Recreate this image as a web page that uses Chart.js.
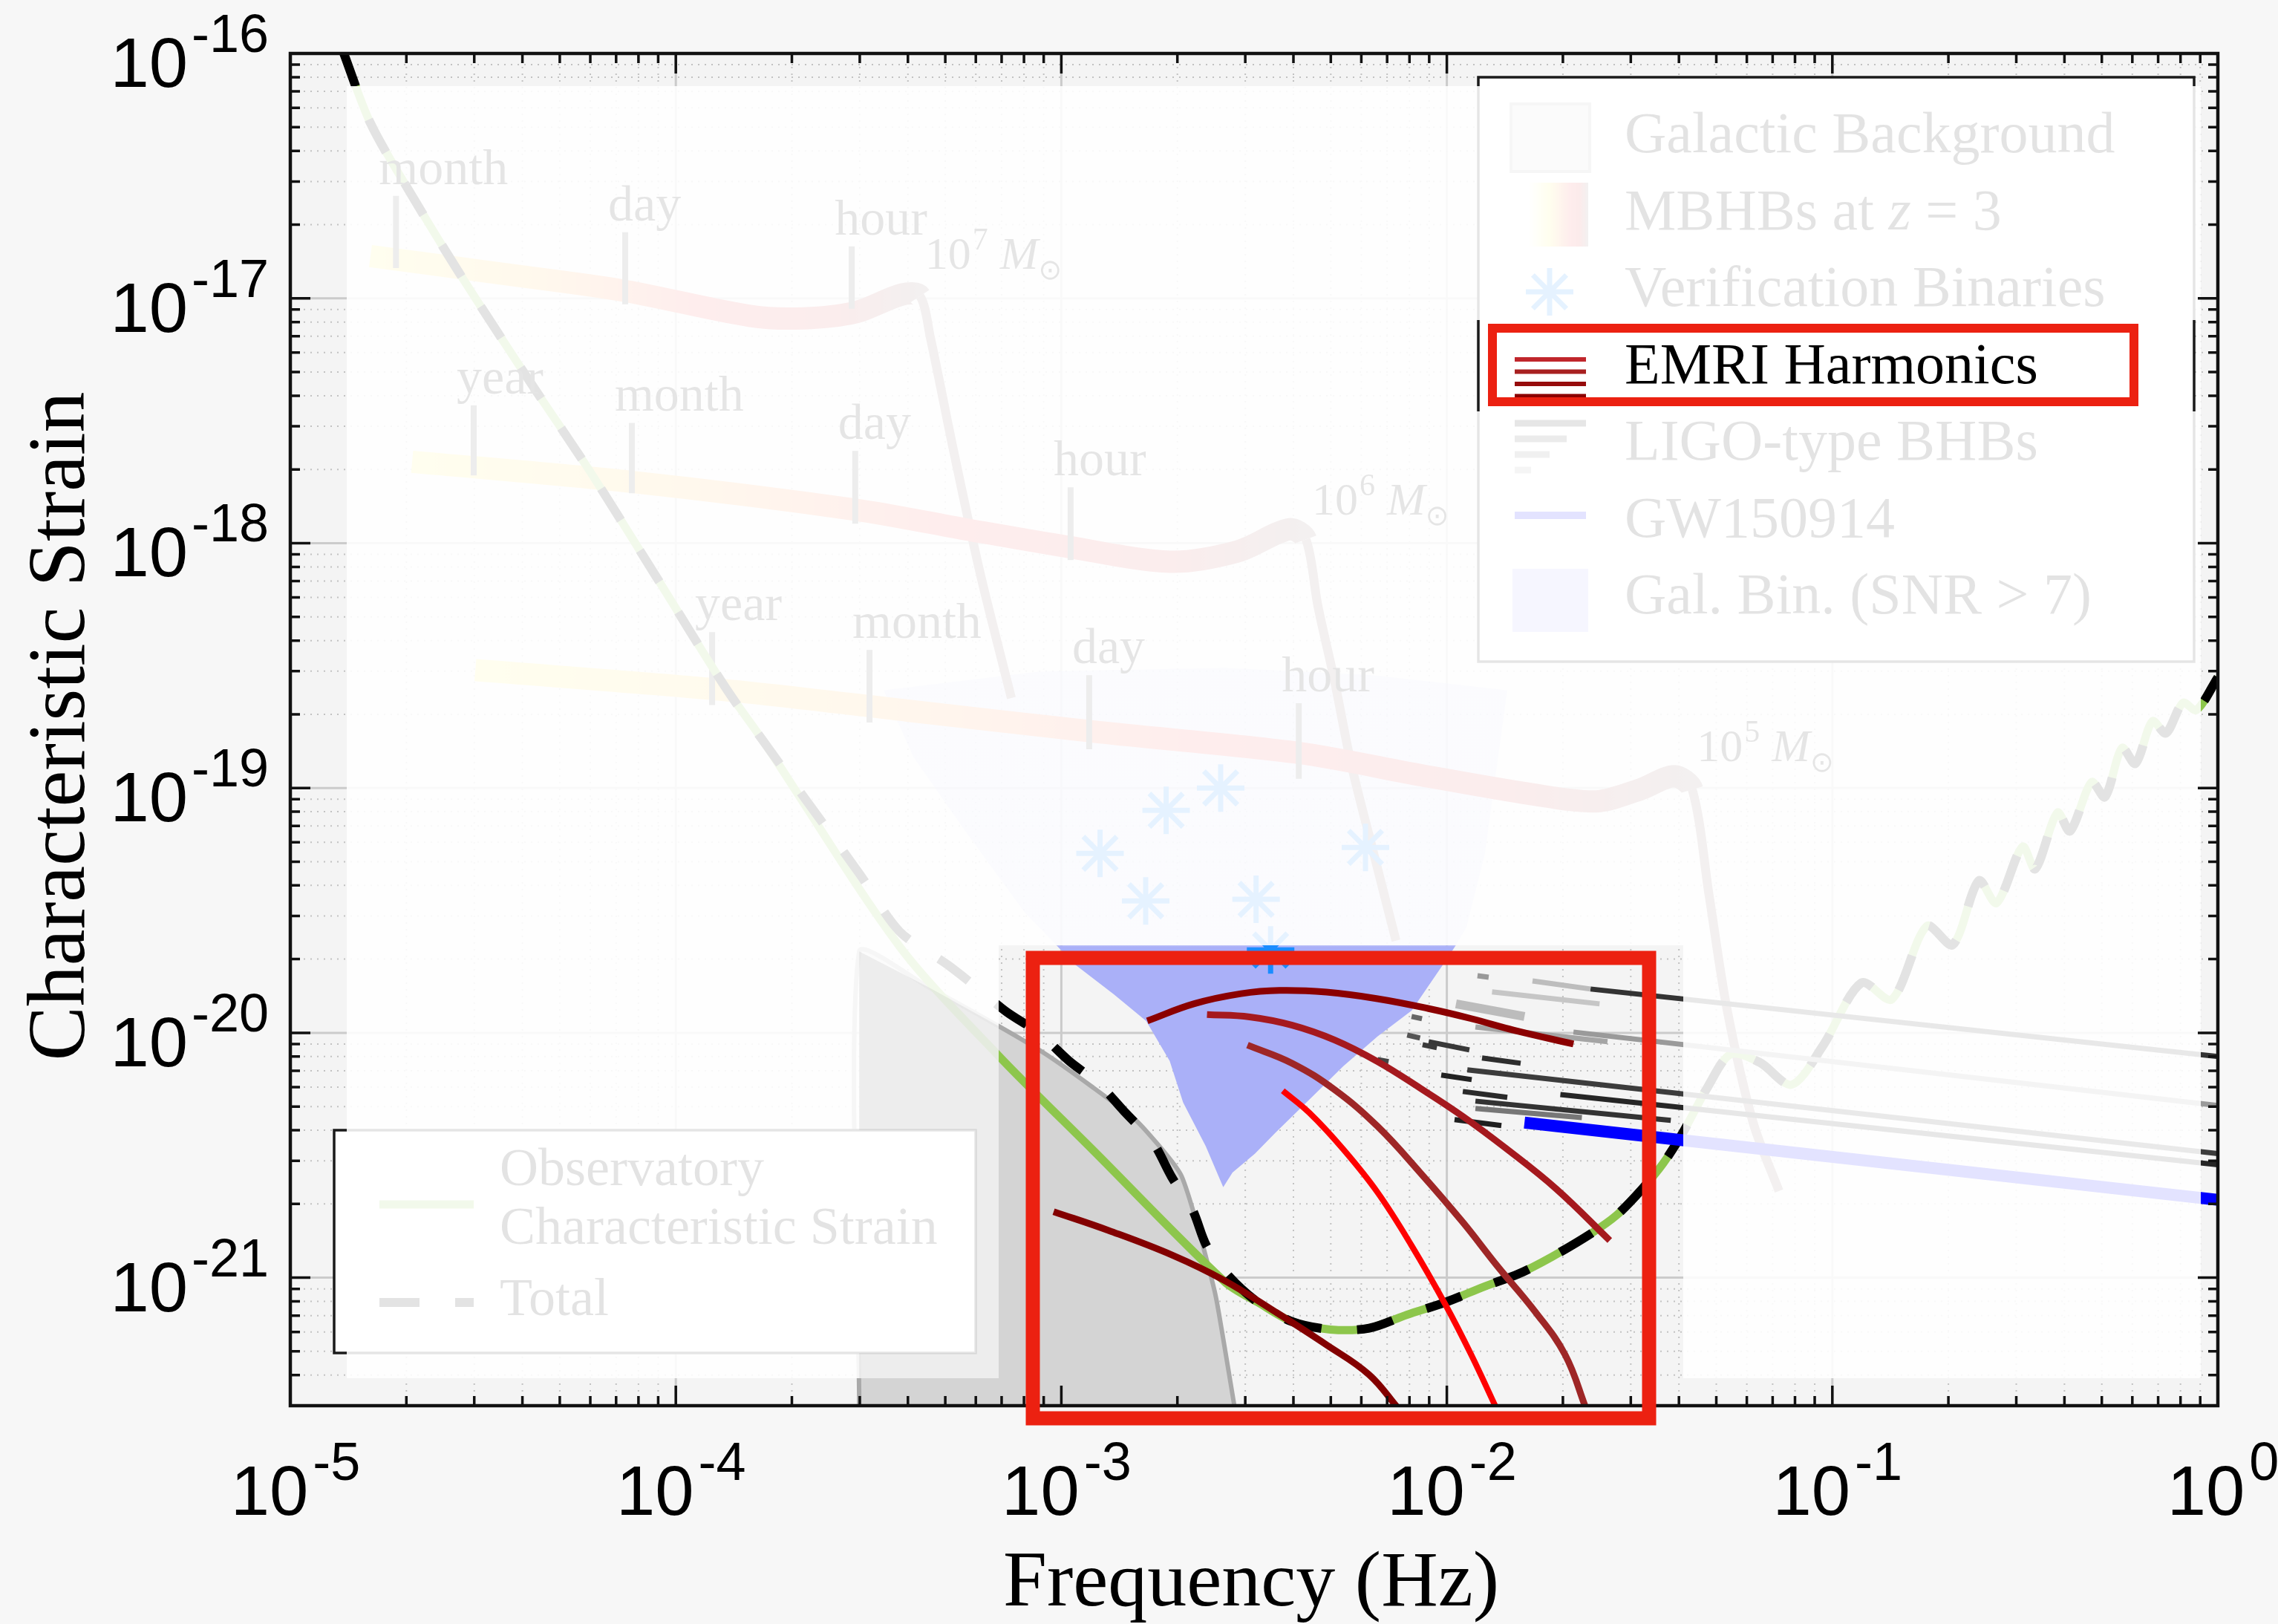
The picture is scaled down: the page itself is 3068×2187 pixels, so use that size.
<!DOCTYPE html>
<html>
<head>
<meta charset="utf-8">
<title>Characteristic strain - EMRI harmonics</title>
<script src="https://cdn.jsdelivr.net/npm/chart.js@4.4.1/dist/chart.umd.min.js"></script>
<style>
  html, body { margin: 0; padding: 0; background: #f7f7f7; overflow: hidden; }
  canvas { display: block; }
</style>
</head>
<body>
<canvas id="strain" width="3068" height="2187"></canvas>
<script>
// values: frequency in Hz, characteristic strain (dimensionless)
const xTickExps = [-5, -4, -3, -2, -1, 0];
const yTickExps = [-16, -17, -18, -19, -20, -21];

// observatory characteristic strain (green curve)
const sensF = [1.37e-5, 1.614e-5, 2.07e-5, 2.737e-5, 4.19e-5, 6.0e-5, 8.94e-5, 1.339e-4, 1.693e-4,
  3.8e-4, 6.88e-4, 1.203e-3, 2.66e-3, 3.23e-3, 3.96e-3, 4.99e-3, 6.29e-3, 7.89e-3, 9.93e-3,
  1.251e-2, 1.534e-2, 1.872e-2, 2.358e-2, 2.754e-2, 3.2e-2, 3.64e-2, 4.09e-2, 4.75e-2, 5.45e-2,
  6.48e-2, 7.84e-2, 9.41e-2, 0.119, 0.1427, 0.1758, 0.2053, 0.2398, 0.2667, 0.3115, 0.3359,
  0.3837, 0.4137, 0.4706, 0.5095, 0.5642, 0.6112, 0.6768, 0.7332, 0.812, 0.8795, 1.0];
const sensH = [1.02e-16, 5.19e-17, 2.62e-17, 1.277e-17, 4.55e-18, 1.954e-18, 7.2e-19, 2.6e-19, 1.54e-19,
  2.26e-20, 8.05e-21, 3.34e-21, 9.59e-22, 7.94e-22, 6.62e-22, 6.14e-22, 6.22e-22, 7.06e-22, 7.94e-22,
  9.2e-22, 1.036e-21, 1.216e-21, 1.509e-21, 1.797e-21, 2.29e-21, 2.93e-21, 3.9e-21, 6.01e-21, 8.17e-21,
  7.57e-21, 6.14e-21, 8.76e-21, 1.6e-20, 1.37e-20, 2.73e-20, 2.29e-20, 4.18e-20, 3.39e-20, 5.76e-20, 4.67e-20,
  7.94e-20, 6.67e-20, 1.057e-19, 9.2e-20, 1.457e-19, 1.259e-19, 1.874e-19, 1.675e-19, 2.23e-19, 2.08e-19, 2.83e-19];

// total (instrument + galactic confusion), dashed
const totalF = [1.37e-5, 1.614e-5, 2.07e-5, 2.737e-5, 4.19e-5, 6.0e-5, 8.94e-5, 1.339e-4, 1.693e-4,
  2.99e-4, 3.8e-4, 5.06e-4, 6.1e-4, 7.22e-4, 8.78e-4, 1.048e-3, 1.251e-3, 1.468e-3, 1.73e-3, 1.932e-3,
  2.19e-3, 2.38e-3, 2.72e-3, 3.23e-3, 3.96e-3, 4.99e-3, 6.29e-3, 7.89e-3, 9.93e-3,
  1.251e-2, 1.534e-2, 1.872e-2, 2.358e-2, 2.754e-2, 3.2e-2, 3.64e-2, 4.09e-2, 4.75e-2, 5.45e-2,
  6.48e-2, 7.84e-2, 9.41e-2, 0.119, 0.1427, 0.1758, 0.2053, 0.2398, 0.2667, 0.3115, 0.3359,
  0.3837, 0.4137, 0.4706, 0.5095, 0.5642, 0.6112, 0.6768, 0.7332, 0.812, 0.8795, 1.0];
const totalH = [1.02e-16, 5.19e-17, 2.62e-17, 1.277e-17, 4.55e-18, 1.954e-18, 7.2e-19, 2.6e-19, 1.54e-19,
  4.48e-20, 2.6e-20, 1.9e-20, 1.51e-20, 1.216e-20, 9.93e-21, 7.67e-21, 6.18e-21, 4.71e-21, 3.56e-21, 2.58e-21,
  1.89e-21, 1.35e-21, 1.014e-21, 7.94e-22, 6.62e-22, 6.14e-22, 6.22e-22, 7.06e-22, 7.94e-22,
  9.2e-22, 1.036e-21, 1.216e-21, 1.509e-21, 1.797e-21, 2.29e-21, 2.93e-21, 3.9e-21, 6.01e-21, 8.17e-21,
  7.57e-21, 6.14e-21, 8.76e-21, 1.6e-20, 1.37e-20, 2.73e-20, 2.29e-20, 4.18e-20, 3.39e-20, 5.76e-20, 4.67e-20,
  7.94e-20, 6.67e-20, 1.057e-19, 9.2e-20, 1.457e-19, 1.259e-19, 1.874e-19, 1.675e-19, 2.23e-19, 2.08e-19, 2.83e-19];

// galactic confusion background (grey area)
const galF = [2.99e-4, 2.99e-4, 4.51e-4, 6.88e-4, 9.06e-4, 1.203e-3, 1.562e-3, 1.865e-3, 2.05e-3, 2.25e-3, 2.51e-3, 2.68e-3, 2.82e-3];
const galH = [3.03e-22, 2.15e-20, 1.54e-20, 1.065e-20, 8.23e-21, 6.01e-21, 4.39e-21, 3.21e-21, 2.6e-21, 1.65e-21, 8.52e-22, 4.71e-22, 2.9e-22];

// outline of the resolved galactic binaries (SNR > 7) cloud
const cloudF = [3.46e-4, 8.78e-4, 2.66e-3, 6.46e-3, 1.435e-2, 1.256e-2, 1.124e-2, 1.052e-2, 9.93e-3, 8.1e-3,
  6.61e-3, 5.39e-3, 4.4e-3, 3.587e-3, 3.18e-3, 2.78e-3, 2.63e-3, 2.37e-3, 2.07e-3, 1.91e-3,
  1.66e-3, 1.368e-3, 1.086e-3, 8.03e-4, 5.63e-4, 4.13e-4];
const cloudH = [2.51e-19, 2.99e-19, 3.1e-19, 2.89e-19, 2.51e-19, 5.41e-20, 2.69e-20, 2.26e-20, 1.97e-20, 1.233e-20,
  9.66e-21, 7.31e-21, 5.34e-21, 3.9e-21, 3.21e-21, 2.69e-21, 2.34e-21, 3.44e-21, 5.19e-21, 7.67e-21,
  1.118e-20, 1.437e-20, 1.9e-20, 3.1e-20, 6.67e-20, 1.34e-19];

// massive black hole binaries at z = 3 (1e7, 1e6, 1e5 solar masses)
const mbhb7F = [1.614e-5, 3.31e-5, 7.19e-5, 1.564e-4, 2.14e-4, 2.92e-4, 3.86e-4, 4.3e-4, 4.57e-4, 5.27e-4, 6.16e-4, 7.42e-4];
const mbhb7H = [1.488e-17, 1.277e-17, 1.08e-17, 8.46e-18, 8.28e-18, 8.76e-18, 1.036e-17, 1.021e-17, 6.96e-18, 2.33e-18, 7.51e-19, 2.33e-19];
const mbhb6F = [2.07e-5, 7.66e-5, 2.92e-4, 5.63e-4, 1.039e-3, 1.916e-3, 2.87e-3, 3.9e-3, 4.31e-3, 4.63e-3, 5.11e-3, 5.65e-3, 6.46e-3, 7.38e-3];
const mbhb6H = [2.15e-18, 1.78e-18, 1.37e-18, 1.14e-18, 9.66e-19, 8.4e-19, 9.26e-19, 1.14e-18, 1.036e-18, 5.53e-19, 2.75e-19, 1.25e-19, 5.41e-20, 2.38e-20];
const mbhb5F = [3.02e-5, 1.339e-4, 3.99e-4, 1.251e-3, 4.14e-3, 8.62e-3, 1.64e-2, 2.44e-2, 3.17e-2, 3.89e-2, 4.33e-2, 4.79e-2, 5.33e-2, 6.23e-2, 7.27e-2];
const mbhb5H = [3.03e-19, 2.51e-19, 2.07e-19, 1.69e-19, 1.39e-19, 1.126e-19, 9.46e-20, 8.82e-20, 9.86e-20, 1.118e-19, 9.86e-20, 3.64e-20, 1.25e-20, 4.3e-21, 2.26e-21];
const mbhbRingdownFrom = [7, 8, 10];
const mbhbMassExp = [7, 6, 5];
const mbhbMassF = [4.43e-4, 4.47e-3, 4.45e-2];
const mbhbMassH = [1.32e-17, 1.31e-18, 1.29e-19];

// time-to-merger marks along the MBHB tracks
const timeLabel = ['month', 'day', 'hour', 'year', 'month', 'day', 'hour', 'year', 'month', 'day', 'hour'];
const timeF = [1.88e-5, 7.39e-5, 2.86e-4, 2.99e-5, 7.69e-5, 2.92e-4, 1.057e-3, 1.242e-4, 3.18e-4, 1.181e-3, 4.13e-3];
const timeTopH = [2.62e-17, 1.86e-17, 1.63e-17, 3.66e-18, 3.1e-18, 2.38e-18, 1.69e-18, 4.33e-19, 3.66e-19, 2.89e-19, 2.22e-19];
const timeBottomH = [1.33e-17, 9.46e-18, 9.07e-18, 1.89e-18, 1.6e-18, 1.2e-18, 8.52e-19, 2.18e-19, 1.85e-19, 1.44e-19, 1.09e-19];

// verification binaries
const vbF = [1.26e-3, 1.87e-3, 2.59e-3, 1.655e-3, 3.2e-3, 6.15e-3, 3.49e-3];
const vbH = [5.41e-20, 8.11e-20, 1.0e-19, 3.46e-20, 3.51e-20, 5.72e-20, 2.18e-20];

// EMRI harmonics
const emriAF = [1.671e-3, 2.213e-3, 2.926e-3, 3.68e-3, 4.87e-3, 6.61e-3, 8.97e-3, 1.157e-2, 1.493e-2, 2.13e-2];
const emriAH = [1.119e-20, 1.315e-20, 1.445e-20, 1.49e-20, 1.466e-20, 1.378e-20, 1.256e-20, 1.143e-20, 1.025e-20, 9.0e-21];
const emriBF = [2.387e-3, 3.08e-3, 3.97e-3, 5.12e-3, 6.61e-3, 8.52e-3, 1.1e-2, 1.418e-2, 1.925e-2, 2.646e-2];
const emriBH = [1.187e-20, 1.161e-20, 1.074e-20, 9.34e-21, 7.63e-21, 5.95e-21, 4.56e-21, 3.39e-21, 2.3e-21, 1.419e-21];
const emriCF = [3.04e-3, 3.97e-3, 5.12e-3, 6.61e-3, 8.52e-3, 1.1e-2, 1.348e-2, 1.695e-2, 2.027e-2, 2.3e-2];
const emriCH = [8.91e-21, 7.51e-21, 5.85e-21, 4.15e-21, 2.69e-21, 1.684e-21, 1.122e-21, 7.26e-22, 4.84e-22, 2.9e-22];
const emriDF = [3.754e-3, 4.4e-3, 5.39e-3, 6.61e-3, 8.1e-3, 9.93e-3, 1.157e-2, 1.348e-2];
const emriDH = [5.8e-21, 4.71e-21, 3.34e-21, 2.23e-21, 1.353e-21, 7.73e-22, 4.84e-22, 2.9e-22];
const emriEF = [9.55e-4, 1.329e-3, 1.947e-3, 2.642e-3, 3.587e-3, 4.87e-3, 6.28e-3, 7.51e-3];
const emriEH = [1.861e-21, 1.557e-21, 1.233e-21, 9.76e-22, 7.26e-22, 5.32e-22, 4.02e-22, 2.9e-22];

// LIGO-type black hole binaries: [f start, h start, f end, h end]
const ligoTracks = [
  [2.358e-2, 1.51e-20, 1.0, 8.0e-21],
  [2.13e-2, 1.007e-20, 1.0, 5.05e-21],
  [1.13e-2, 7.06e-21, 1.0, 3.21e-21],
  [1.97e-2, 5.6e-21, 1.0, 2.89e-21],
  [1.668e-2, 1.63e-20, 2.358e-2, 1.51e-20],
  [1.31e-2, 1.47e-20, 2.49e-2, 1.313e-20],
  [1.056e-2, 1.313e-20, 1.59e-2, 1.166e-20],
  [1.186e-2, 1.057e-20, 2.61e-2, 9.2e-21],
  [8.97e-3, 9.2e-21, 1.144e-2, 8.52e-21],
  [1.234e-2, 7.89e-21, 1.554e-2, 7.51e-21],
  [9.67e-3, 6.72e-21, 1.16e-2, 6.44e-21],
  [1.1e-2, 5.76e-21, 1.435e-2, 5.45e-21],
  [1.186e-2, 5.26e-21, 3.81e-2, 4.39e-21],
  [1.047e-2, 4.42e-21, 1.385e-2, 4.18e-21],
  [1.186e-2, 4.91e-21, 2.24e-2, 4.51e-21],
  [6.61e-3, 7.78e-21, 7.06e-3, 7.62e-21],
  [7.89e-3, 9.79e-21, 8.52e-3, 9.52e-21],
  [8.65e-3, 8.94e-21, 9.42e-3, 8.7e-21],
  [8.1e-3, 1.166e-20, 8.62e-3, 1.142e-20],
  [1.201e-2, 1.71e-20, 1.284e-2, 1.688e-20]
];
const ligoShade = ['#333333', '#9a9a9a', '#3c3c3c', '#262626', '#bdbdbd', '#c6c6c6', '#bcbcbc', '#a5a5a5', '#383838', '#2e2e2e',
  '#222222', '#2a2a2a', '#333333', '#1f1f1f', '#777777', '#444444', '#555555', '#3a3a3a', '#666666', '#999999'];

// GW150914
const gwF = [1.59e-2, 1.0];
const gwH = [4.3e-21, 2.08e-21];

const legendLabels = ['Galactic Background', 'MBHBs at ', 'Verification Binaries', 'EMRI Harmonics',
  'LIGO-type BHBs', 'GW150914', 'Gal. Bin. (SNR > 7)'];

// ---------------------------------------------------------------------------
const serif = '"Liberation Serif", "Times New Roman", serif';
const sans = '"Liberation Sans", Arial, sans-serif';
const Y_MIN = 3.03e-22;

// where the figure is dimmed, and the two spots left bright
const fadeBox = {l: 467, t: 116, r: 2964, b: 1856};
const spotPlot = {l: 1345, t: 1273, r: 2267, b: 1856};
const spotLegend = {l: 1988, t: 431, r: 2958, b: 554};

function pts(fs, hs) {
  return fs.map((f, i) => ({x: f, y: hs[i]}));
}

function curve(fs, hs, extra) {
  return Object.assign({
    data: pts(fs, hs),
    showLine: true,
    pointRadius: 0,
    fill: false,
    tension: 0,
    borderCapStyle: 'butt',
    borderJoinStyle: 'round'
  }, extra);
}

function bandColor(fs, rd) {
  return function (c) {
    const chart = c.chart;
    if (!chart.chartArea || !chart.scales.x) return '#e06060';
    const x0 = chart.scales.x.getPixelForValue(fs[0]);
    const x1 = chart.scales.x.getPixelForValue(fs[rd]);
    const g = chart.ctx.createLinearGradient(x0, 0, x1, 0);
    g.addColorStop(0, '#fff36b');
    g.addColorStop(0.3, '#ffc15c');
    g.addColorStop(0.6, '#f25a5a');
    g.addColorStop(0.85, '#d65c5c');
    g.addColorStop(1, '#8e7474');
    return g;
  };
}

// the faint upper part of the binaries cloud is only sparsely populated
function cloudColor(c) {
  const chart = c.chart;
  if (!chart.chartArea) return '#aab0f8';
  const g = chart.ctx.createLinearGradient(0, spotPlot.t - 2, 0, spotPlot.t + 2);
  g.addColorStop(0, 'rgba(170,176,248,0.35)');
  g.addColorStop(1, 'rgba(170,176,248,1)');
  return g;
}

const datasets = [];
datasets.push(curve(cloudF, cloudH, {
  label: 'Gal. Bin. (SNR > 7)', fill: 'shape', backgroundColor: cloudColor,
  borderColor: 'rgba(0,0,0,0)', borderWidth: 1
}));
const galIndex = datasets.length;
datasets.push(curve(galF, galH, {
  label: 'Galactic Background', fill: 'start', backgroundColor: '#d4d4d4',
  borderColor: '#a9a9a9', borderWidth: 6, tension: 0.2
}));
[[mbhb7F, mbhb7H], [mbhb6F, mbhb6H], [mbhb5F, mbhb5H]].forEach(([fs, hs], k) => {
  const rd = mbhbRingdownFrom[k];
  datasets.push(curve(fs, hs, {
    label: 'MBHB ' + mbhbMassExp[k], borderColor: bandColor(fs, rd), borderWidth: 30, tension: 0.3,
    segment: {borderWidth: s => (s.p0DataIndex >= rd ? 12 : 30)}
  }));
});
const barData = [];
timeF.forEach((f, i) => {
  barData.push({x: f, y: timeTopH[i]}, {x: f, y: timeBottomH[i]}, {x: f, y: null});
});
datasets.push({label: 'time marks', data: barData, showLine: true, pointRadius: 0, borderColor: '#5c5c5c', borderWidth: 8, spanGaps: false});
datasets.push(curve(sensF, sensH, {label: 'Observatory Characteristic Strain', borderColor: '#8dc64c', borderWidth: 11, tension: 0.3}));
datasets.push(curve(totalF, totalH, {label: 'Total', borderColor: '#000000', borderWidth: 12, borderDash: [50, 48], tension: 0.3}));
ligoTracks.forEach((t, i) => {
  datasets.push(curve([t[0], t[2]], [t[1], t[3]], {
    label: 'LIGO-type BHB', borderColor: ligoShade[i], borderWidth: i === 6 ? 12 : 7
  }));
});
datasets.push(curve(gwF, gwH, {label: 'GW150914', borderColor: '#0000ff', borderWidth: 16}));
datasets.push(curve(emriEF, emriEH, {label: 'EMRI', borderColor: '#830000', borderWidth: 9, tension: 0.4}));
datasets.push(curve(emriCF, emriCH, {label: 'EMRI', borderColor: '#9e2626', borderWidth: 9, tension: 0.4}));
datasets.push(curve(emriBF, emriBH, {label: 'EMRI', borderColor: '#a5191e', borderWidth: 9, tension: 0.4}));
datasets.push(curve(emriDF, emriDH, {label: 'EMRI', borderColor: '#ff0000', borderWidth: 8, tension: 0.4}));
datasets.push(curve(emriAF, emriAH, {label: 'EMRI Harmonics', borderColor: '#8b0000', borderWidth: 9, tension: 0.4}));
datasets.push({
  label: 'Verification Binaries', data: pts(vbF, vbH), showLine: false,
  pointStyle: 'star', pointRadius: 32, pointBorderWidth: 7,
  pointBorderColor: '#1a8cff', pointBackgroundColor: '#1a8cff'
});
// first pushed is drawn first (lowest)
datasets.forEach((d, i) => { d.order = datasets.length - i; });

// ---------------------------------------------------------------------------
function gridValues(lo, hi) {
  const out = [];
  for (let e = lo; e < hi; e++) {
    for (let k = 1; k <= 9; k++) out.push({v: k * Math.pow(10, e), major: k === 1});
  }
  out.push({v: Math.pow(10, hi), major: true});
  return out;
}

function drawGrid(chart) {
  const {ctx, chartArea: a, scales: {x, y}} = chart;
  const stroke = (x1, y1, x2, y2, major) => {
    ctx.beginPath();
    ctx.strokeStyle = major ? '#cbcbcb' : '#c2c2c2';
    ctx.lineWidth = major ? 3 : 2;
    ctx.setLineDash(major ? [] : [2, 7]);
    ctx.moveTo(x1, y1);
    ctx.lineTo(x2, y2);
    ctx.stroke();
  };
  ctx.save();
  ctx.beginPath();
  ctx.rect(a.left, a.top, a.right - a.left, a.bottom - a.top);
  ctx.clip();
  gridValues(-5, 0).forEach(g => {
    const p = x.getPixelForValue(g.v);
    stroke(p, a.top, p, a.bottom, g.major);
  });
  gridValues(-22, -16).forEach(g => {
    if (g.v < Y_MIN) return;
    const p = y.getPixelForValue(g.v);
    stroke(a.left, p, a.right, p, g.major);
  });
  ctx.restore();
}

function drawTrackNotes(chart) {
  const {ctx, scales: {x, y}} = chart;
  ctx.save();
  ctx.fillStyle = '#1a1a1a';
  ctx.textAlign = 'left';
  ctx.textBaseline = 'alphabetic';
  ctx.font = '68px ' + serif;
  timeLabel.forEach((t, i) => {
    ctx.fillText(t, x.getPixelForValue(timeF[i]) - 23, y.getPixelForValue(timeTopH[i]) - 16);
  });
  mbhbMassExp.forEach((e, i) => {
    let px = x.getPixelForValue(mbhbMassF[i]);
    const py = y.getPixelForValue(mbhbMassH[i]);
    ctx.font = '62px ' + serif;
    ctx.fillText('10', px, py);
    px += ctx.measureText('10').width + 2;
    ctx.font = '42px ' + serif;
    ctx.fillText(String(e), px, py - 26);
    px += ctx.measureText(String(e)).width + 16;
    ctx.font = 'italic 62px ' + serif;
    ctx.fillText('M', px, py);
    px += ctx.measureText('M').width;
    ctx.font = '38px "DejaVu Sans", sans-serif';
    ctx.fillText('\u2299', px, py + 14);
  });
  ctx.restore();
}

function legendBox(ctx, l, t, w, h) {
  ctx.fillStyle = '#ffffff';
  ctx.fillRect(l, t, w, h);
  ctx.strokeStyle = '#1a1a1a';
  ctx.lineWidth = 3.5;
  ctx.setLineDash([]);
  ctx.strokeRect(l, t, w, h);
}

function hLine(ctx, x1, x2, yy, color, width, dash) {
  ctx.beginPath();
  ctx.strokeStyle = color;
  ctx.lineWidth = width;
  ctx.lineCap = 'butt';
  ctx.setLineDash(dash || []);
  ctx.moveTo(x1, yy);
  ctx.lineTo(x2, yy);
  ctx.stroke();
  ctx.setLineDash([]);
}

function drawLegends(chart) {
  const ctx = chart.ctx;
  ctx.save();
  // upper-right legend
  legendBox(ctx, 1991, 104, 964, 787);
  const tx = 2188;
  const base = [205, 309, 412, 516, 619, 723, 826];
  ctx.fillStyle = '#d4d4d4';
  ctx.fillRect(2035, 140, 106, 91);
  ctx.strokeStyle = '#a9a9a9';
  ctx.lineWidth = 4;
  ctx.strokeRect(2035, 140, 106, 91);
  const g = ctx.createLinearGradient(2058, 0, 2139, 0);
  g.addColorStop(0, '#ffffff');
  g.addColorStop(0.35, '#fff36b');
  g.addColorStop(0.7, '#f25a5a');
  g.addColorStop(0.85, '#e04848');
  g.addColorStop(1, '#8e8080');
  ctx.fillStyle = g;
  ctx.fillRect(2058, 246, 81, 86);
  // verification binary asterisk
  ctx.strokeStyle = '#1a8cff';
  ctx.lineWidth = 7;
  ctx.beginPath();
  for (let k = 0; k < 4; k++) {
    const ang = k * Math.PI / 4;
    ctx.moveTo(2087 - 32 * Math.cos(ang), 393 - 32 * Math.sin(ang));
    ctx.lineTo(2087 + 32 * Math.cos(ang), 393 + 32 * Math.sin(ang));
  }
  ctx.stroke();
  ['#c0262c', '#a82020', '#960c0c', '#8b0000'].forEach((c, k) => hLine(ctx, 2040, 2136, 484 + k * 16.5, c, 6));
  [[2136, '#222222'], [2110, '#4a4a4a'], [2087, '#777777'], [2062, '#a4a4a4']].forEach(([e, c], k) => hLine(ctx, 2040, e, 570 + k * 21, c, 9));
  hLine(ctx, 2040, 2136, 694, '#0000ff', 10);
  ctx.fillStyle = '#aab0f8';
  ctx.fillRect(2037, 766, 102, 85);

  ctx.fillStyle = '#000000';
  ctx.textAlign = 'left';
  ctx.textBaseline = 'alphabetic';
  ctx.font = '78px ' + serif;
  legendLabels.forEach((s, i) => ctx.fillText(s, tx, base[i]));
  let zx = tx + ctx.measureText(legendLabels[1]).width;
  ctx.font = 'italic 78px ' + serif;
  ctx.fillText('z', zx, base[1]);
  zx += ctx.measureText('z').width;
  ctx.font = '78px ' + serif;
  ctx.fillText(' = 3', zx, base[1]);

  // lower-left legend
  legendBox(ctx, 450, 1522, 864, 300);
  hLine(ctx, 511, 638, 1622, '#8dc64c', 11);
  hLine(ctx, 511, 638, 1754, '#000000', 12, [54, 48]);
  ctx.fillStyle = '#000000';
  ctx.font = '72px ' + serif;
  ctx.fillText('Observatory', 673, 1596);
  ctx.fillText('Characteristic Strain', 673, 1675);
  ctx.fillText('Total', 673, 1771);
  ctx.restore();
}

function drawFade(chart) {
  const ctx = chart.ctx;
  const rectPath = b => ctx.rect(b.l, b.t, b.r - b.l, b.b - b.t);
  ctx.save();
  ctx.beginPath();
  rectPath(fadeBox);
  rectPath(spotPlot);
  rectPath(spotLegend);
  ctx.fillStyle = 'rgba(255,255,255,0.89)';
  ctx.fill('evenodd');
  ctx.restore();

  // the grey background patch stays a little darker than the rest of the dimmed figure
  const meta = chart.getDatasetMeta(galIndex);
  const pts2 = meta.data;
  if (!pts2.length) return;
  ctx.save();
  ctx.beginPath();
  ctx.rect(fadeBox.l, fadeBox.t, spotPlot.l - fadeBox.l, fadeBox.b - fadeBox.t);
  ctx.rect(450, 1522, 864, 300);
  ctx.clip('evenodd');
  ctx.beginPath();
  pts2.forEach((p, i) => (i ? ctx.lineTo(p.x, p.y) : ctx.moveTo(p.x, p.y)));
  ctx.lineTo(pts2[pts2.length - 1].x, chart.chartArea.bottom);
  ctx.closePath();
  ctx.fillStyle = 'rgba(0,0,0,0.055)';
  ctx.fill();
  ctx.restore();
}

function drawFrame(chart) {
  const {ctx, chartArea: a, scales: {x, y}} = chart;
  ctx.save();
  ctx.strokeStyle = '#111111';
  ctx.lineWidth = 3.5;
  ctx.setLineDash([]);
  ctx.beginPath();
  gridValues(-5, 0).forEach(g => {
    const p = x.getPixelForValue(g.v), len = g.major ? 27 : 13;
    ctx.moveTo(p, a.bottom); ctx.lineTo(p, a.bottom - len);
    ctx.moveTo(p, a.top); ctx.lineTo(p, a.top + len);
  });
  gridValues(-22, -16).forEach(g => {
    if (g.v < Y_MIN) return;
    const p = y.getPixelForValue(g.v), len = g.major ? 27 : 13;
    ctx.moveTo(a.left, p); ctx.lineTo(a.left + len, p);
    ctx.moveTo(a.right, p); ctx.lineTo(a.right - len, p);
  });
  ctx.stroke();
  ctx.lineWidth = 4.5;
  ctx.strokeRect(a.left, a.top, a.right - a.left, a.bottom - a.top);
  ctx.restore();
}

function drawAxisText(chart) {
  const {ctx, chartArea: a, scales: {x, y}} = chart;
  const baseFont = '94px ' + sans;
  const expFont = '72px ' + sans;
  ctx.save();
  ctx.fillStyle = '#000000';
  ctx.textBaseline = 'alphabetic';
  xTickExps.forEach(e => {
    const p = x.getPixelForValue(Math.pow(10, e));
    ctx.font = baseFont;
    const wb = ctx.measureText('10').width;
    ctx.font = expFont;
    const we = ctx.measureText(String(e)).width;
    const left = p + 7 - (wb + 6 + we) / 2;
    ctx.textAlign = 'left';
    ctx.font = baseFont;
    ctx.fillText('10', left, a.bottom + 147);
    ctx.font = expFont;
    ctx.fillText(String(e), left + wb + 6, a.bottom + 100);
  });
  yTickExps.forEach(e => {
    const p = y.getPixelForValue(Math.pow(10, e));
    ctx.textAlign = 'right';
    ctx.font = expFont;
    const we = ctx.measureText(String(e)).width;
    ctx.fillText(String(e), a.left - 29, p - 2);
    ctx.font = baseFont;
    ctx.fillText('10', a.left - 29 - we - 5, p + 45);
  });
  ctx.font = '106px ' + serif;
  ctx.textAlign = 'center';
  ctx.fillText('Frequency (Hz)', 1685, a.bottom + 269);
  ctx.font = '110px ' + serif;
  ctx.translate(a.left - 278, 978);
  ctx.rotate(-Math.PI / 2);
  ctx.fillText('Characteristic Strain', 0, 0);
  ctx.restore();
}

function drawHighlights(chart) {
  const ctx = chart.ctx;
  ctx.save();
  ctx.strokeStyle = '#ec2111';
  ctx.setLineDash([]);
  ctx.lineWidth = 19;
  ctx.strokeRect(1391, 1290, 830, 620);
  ctx.lineWidth = 12;
  ctx.strokeRect(2010, 442, 864, 99);
  ctx.restore();
}

const figurePlugin = {
  id: 'figure',
  beforeDraw(chart) {
    const {ctx, chartArea: a} = chart;
    ctx.save();
    ctx.fillStyle = '#f7f7f7';
    ctx.fillRect(0, 0, chart.width, chart.height);
    ctx.fillStyle = '#f4f4f4';
    ctx.fillRect(a.left, a.top, a.right - a.left, a.bottom - a.top);
    ctx.restore();
  },
  beforeDatasetsDraw(chart) {
    drawGrid(chart);
  },
  afterDatasetsDraw(chart) {
    drawTrackNotes(chart);
    drawLegends(chart);
    drawFade(chart);
    drawFrame(chart);
    drawAxisText(chart);
    drawHighlights(chart);
  }
};

new Chart(document.getElementById('strain'), {
  type: 'scatter',
  data: {datasets: datasets},
  options: {
    responsive: false,
    animation: false,
    devicePixelRatio: 1,
    events: [],
    layout: {padding: {left: 391, right: 81, top: 72, bottom: 294}},
    scales: {
      x: {type: 'logarithmic', min: 1e-5, max: 1, display: false},
      y: {type: 'logarithmic', min: Y_MIN, max: 1e-16, display: false}
    },
    elements: {point: {radius: 0}},
    plugins: {legend: {display: false}, tooltip: {enabled: false}}
  },
  plugins: [figurePlugin]
});
</script>
</body>
</html>
